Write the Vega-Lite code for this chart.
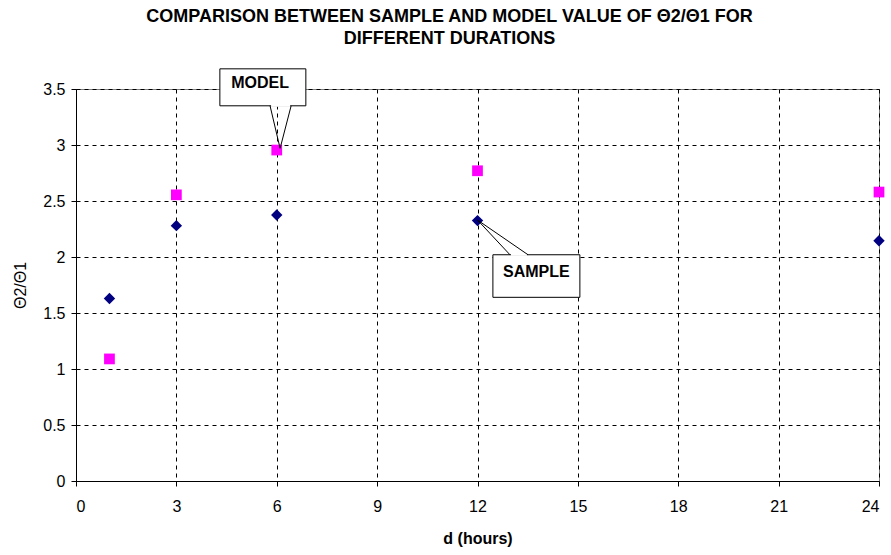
{
  "$schema": "https://vega.github.io/schema/vega-lite/v6.json",
  "width": 803,
  "height": 392,
  "autosize": {"type": "none"},
  "padding": {"left": 76, "top": 89, "right": 12, "bottom": 74},
  "background": "white",
  "config": {
    "font": "Liberation Sans",
    "view": {"stroke": "#808080", "strokeWidth": 1},
    "axis": {
      "labelFont": "Liberation Sans",
      "titleFont": "Liberation Sans",
      "labelFontSize": 16,
      "labelColor": "black",
      "domainColor": "black",
      "tickColor": "black",
      "tickSize": 5,
      "gridColor": "black",
      "gridDash": [4, 4],
      "gridOpacity": 1,
      "gridWidth": 1,
      "titleFontSize": 16,
      "titleFontWeight": "bold",
      "titleColor": "black"
    }
  },
  "title": {
    "text": ["COMPARISON BETWEEN SAMPLE AND MODEL VALUE OF Θ2/Θ1 FOR", "DIFFERENT DURATIONS"],
    "font": "Liberation Sans",
    "fontSize": 18,
    "fontWeight": "bold",
    "color": "black",
    "anchor": "middle",
    "dx": -28,
    "offset": 20,
    "lineHeight": 22
  },
  "layer": [
    {
      "data": {"values": [
        {"d": 1, "value": 1.63, "series": "Sample"},
        {"d": 3, "value": 2.28, "series": "Sample"},
        {"d": 6, "value": 2.375, "series": "Sample"},
        {"d": 12, "value": 2.325, "series": "Sample"},
        {"d": 24, "value": 2.145, "series": "Sample"},
        {"d": 1, "value": 1.09, "series": "Model"},
        {"d": 3, "value": 2.555, "series": "Model"},
        {"d": 6, "value": 2.955, "series": "Model"},
        {"d": 12, "value": 2.77, "series": "Model"},
        {"d": 24, "value": 2.58, "series": "Model"}
      ]},
      "mark": {"type": "point", "filled": true, "opacity": 1},
      "encoding": {
        "x": {
          "field": "d", "type": "quantitative",
          "scale": {"domain": [0, 24], "nice": false, "zero": false},
          "axis": {"values": [0, 3, 6, 9, 12, 15, 18, 21, 24], "title": "d (hours)", "titlePadding": 16, "labelPadding": 12}
        },
        "y": {
          "field": "value", "type": "quantitative",
          "scale": {"domain": [0, 3.5], "nice": false},
          "axis": {"values": [0, 0.5, 1, 1.5, 2, 2.5, 3, 3.5], "format": ".1~f", "title": "Θ2/Θ1", "titleFontWeight": "normal", "titlePadding": 14, "labelPadding": 6}
        },
        "color": {"field": "series", "type": "nominal", "scale": {"domain": ["Sample", "Model"], "range": ["#000080", "#FF00FF"]}, "legend": null},
        "shape": {"field": "series", "type": "nominal", "scale": {"domain": ["Sample", "Model"], "range": ["diamond", "square"]}, "legend": null},
        "size": {"field": "series", "type": "nominal", "scale": {"domain": ["Sample", "Model"], "range": [130, 115]}, "legend": null}
      }
    },
    {
      "data": {"values": [
        {"x1": 4.3, "x2": 6.87, "y1": 3.68, "y2": 3.35},
        {"x1": 12.46, "x2": 15.06, "y1": 2.02, "y2": 1.64}
      ]},
      "mark": {"type": "rect", "fill": "white", "stroke": "black", "strokeWidth": 1},
      "encoding": {
        "x": {"field": "x1", "type": "quantitative"},
        "x2": {"field": "x2"},
        "y": {"field": "y1", "type": "quantitative"},
        "y2": {"field": "y2"}
      }
    },
    {
      "data": {"values": [
        {"x1": 5.83, "y1": 3.35, "x2": 6.4, "y2": 3.35},
        {"x1": 13.0, "y1": 2.02, "x2": 13.48, "y2": 2.02}
      ]},
      "mark": {"type": "rule", "color": "white", "strokeWidth": 2},
      "encoding": {
        "x": {"field": "x1", "type": "quantitative"},
        "x2": {"field": "x2"},
        "y": {"field": "y1", "type": "quantitative"},
        "y2": {"field": "y2"}
      }
    },
    {
      "data": {"values": [
        {"x1": 5.8, "y1": 3.35, "x2": 6.1, "y2": 2.97},
        {"x1": 6.43, "y1": 3.35, "x2": 6.1, "y2": 2.97},
        {"x1": 12.97, "y1": 2.02, "x2": 12.0, "y2": 2.33},
        {"x1": 13.51, "y1": 2.02, "x2": 12.0, "y2": 2.33}
      ]},
      "mark": {"type": "rule", "color": "black", "strokeWidth": 1},
      "encoding": {
        "x": {"field": "x1", "type": "quantitative"},
        "x2": {"field": "x2"},
        "y": {"field": "y1", "type": "quantitative"},
        "y2": {"field": "y2"}
      }
    },
    {
      "data": {"values": [
        {"label": "MODEL", "x": 5.5, "y": 3.55},
        {"label": "SAMPLE", "x": 13.76, "y": 1.865}
      ]},
      "mark": {"type": "text", "font": "Liberation Sans", "fontSize": 16, "fontWeight": "bold", "color": "black", "align": "center", "baseline": "middle"},
      "encoding": {
        "x": {"field": "x", "type": "quantitative"},
        "y": {"field": "y", "type": "quantitative"},
        "text": {"field": "label"}
      }
    }
  ]
}
